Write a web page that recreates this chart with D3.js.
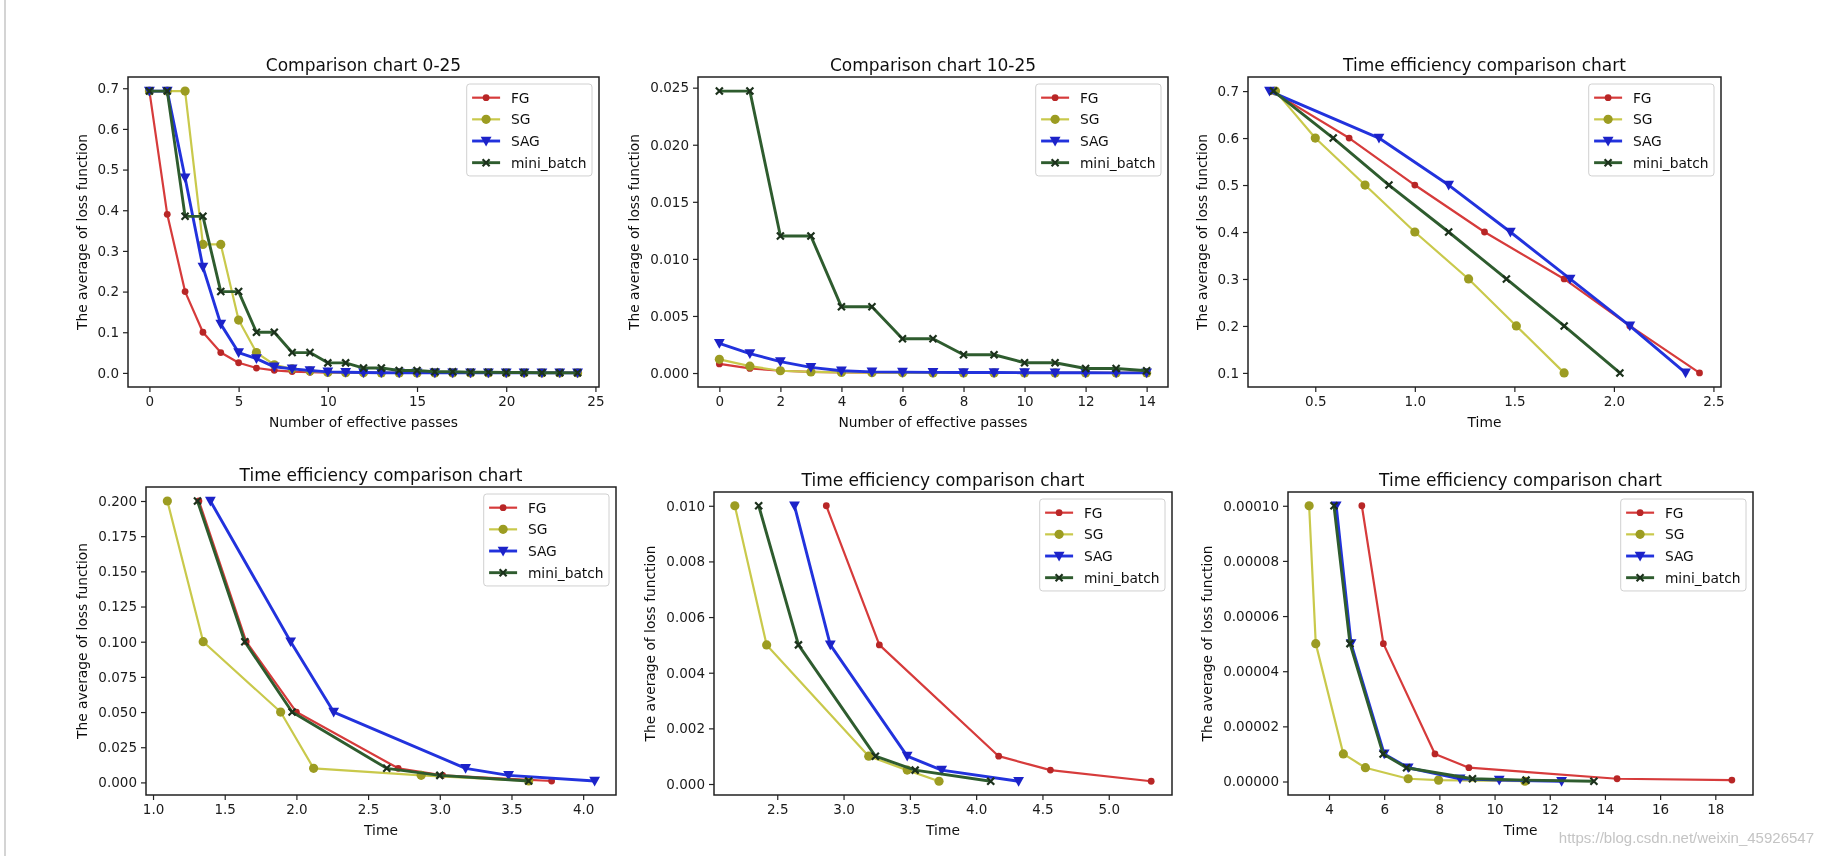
<!DOCTYPE html>
<html><head><meta charset="utf-8">
<script src="https://cdn.jsdelivr.net/npm/d3@7"></script>
<style>html,body{margin:0;padding:0;background:#fff;} svg{display:block;}</style>
</head><body>
<svg id="chart" width="1824" height="856"></svg>
<script>
// ---------- data ----------
const seriesNames = ["FG", "SG", "SAG", "mini_batch"];

// Panels 1 & 2: loss vs number of effective passes
const passes = [0,1,2,3,4,5,6,7,8,9,10,11,12,13,14,15,16,17,18,19,20,21,22,23,24];
const lossFG   = [0.693,0.39,0.2,0.1,0.05,0.025,0.012,0.0064,0.0032,0.0016,0.0008,0.0004,0.0002,0.0001,0.00005,0.00003,0.00002,0.00001,0.00001,0.00001,0.00001,0.00001,0.00001,0.00001,0.00001];
const lossSG   = [0.693,0.693,0.693,0.316,0.316,0.13,0.05,0.02,0.01,0.005,0.0012,0.0006,0.0002,0.0001,0.00005,0.00003,0.00002,0.00001,0.00001,0.00001,0.00001,0.00001,0.00001,0.00001,0.00001];
const lossSAG  = [0.693,0.693,0.48,0.26,0.12,0.05,0.035,0.015,0.01,0.006,0.0026,0.0017,0.001,0.0005,0.0002,0.0001,0.00008,0.00006,0.00005,0.00004,0.00003,0.00002,0.00002,0.00001,0.00001];
const lossMini = [0.693,0.693,0.385,0.385,0.2,0.2,0.1,0.1,0.05,0.05,0.0247,0.0247,0.012,0.012,0.0058,0.0058,0.003,0.003,0.0016,0.0016,0.0009,0.0009,0.0004,0.0004,0.0002];
const passes10 = [0,1,2,3,4,5,6,7,8,9,10,11,12,13,14];

// Panel 3: time to reach loss level
const thr3    = [0.7,0.6,0.5,0.4,0.3,0.2,0.1];
const timeFG3 = [0.28,0.67,1.0,1.35,1.75,2.08,2.43];
const timeSG3 = [0.30,0.50,0.75,1.0,1.27,1.51,1.75];
const timeSAG3= [0.27,0.82,1.17,1.48,1.78,2.08,2.36];
const timeMB3 = [0.29,0.59,0.87,1.17,1.46,1.75,2.03];

// Panel 4
const thr4    = [0.2,0.1,0.05,0.01,0.005,0.001];
const timeFG4 = [1.32,1.65,2.0,2.71,3.02,3.78];
const timeSG4 = [1.10,1.35,1.89,2.12,2.87,3.62];
const timeSAG4= [1.40,1.96,2.26,3.18,3.48,4.08];
const timeMB4 = [1.31,1.64,1.97,2.63,3.0,3.62];

// Panel 5
const thr5    = [0.01,0.005,0.001,0.0005,0.0001];
const timeFG5 = [2.87,3.27,4.17,4.56,5.32];
const timeSG5 = [2.18,2.42,3.19,3.48,3.72];
const timeSAG5= [2.63,2.90,3.48,3.74,4.32];
const timeMB5 = [2.36,2.66,3.24,3.54,4.11];

// Panel 6
const thr6    = [0.0001,0.00005,0.00001,0.000005,0.000001,0.0000005,0.0000001];
const timeFG6 = [5.19,5.97,7.84,9.07,14.44,18.6];
const timeSG6 = [3.28,3.52,4.52,5.32,6.87,7.97,11.1];
const timeSAG6= [4.26,4.80,6.00,6.87,8.75,10.17,12.43];
const timeMB6 = [4.18,4.76,5.96,6.81,9.2,11.14,13.6];

// tick values
const xTicks1 = [0,5,10,15,20,25];
const yTicks1 = [0,0.1,0.2,0.3,0.4,0.5,0.6,0.7];
const xTicks2 = [0,2,4,6,8,10,12,14];
const yTicks2 = [0,0.005,0.01,0.015,0.02,0.025];
const xTicks3 = [0.5,1.0,1.5,2.0,2.5];
const yTicks3 = [0.1,0.2,0.3,0.4,0.5,0.6,0.7];
const xTicks4 = [1.0,1.5,2.0,2.5,3.0,3.5,4.0];
const yTicks4 = [0,0.025,0.05,0.075,0.1,0.125,0.15,0.175,0.2];
const xTicks5 = [2.5,3.0,3.5,4.0,4.5,5.0];
const yTicks5 = [0,0.002,0.004,0.006,0.008,0.01];
const xTicks6 = [4,6,8,10,12,14,16,18];
const yTicks6 = [0,0.00002,0.00004,0.00006,0.00008,0.0001];

const titles = ["Comparison chart 0-25","Comparison chart 10-25","Time efficiency comparison chart","Time efficiency comparison chart","Time efficiency comparison chart","Time efficiency comparison chart"];
const yLabel = "The average of loss function";
const watermark = "https://blog.csdn.net/weixin_45926547";

// ---------- style ----------
const FONT = "'DejaVu Sans', sans-serif";
const lineColors   = ["#d63a3a","#c9c94c","#2233dd","#2f5c2f"];
const markerColors = ["#b82828","#9c9c20","#1a22c8","#1c301c"];
const lineWidths   = [2.2,2.2,2.9,2.9];

const svg = d3.select("#chart");
const defs = svg.append("defs");
defs.append("filter").attr("id","soft")
  .attr("filterUnits","userSpaceOnUse").attr("x",0).attr("y",0).attr("width",1824).attr("height",856)
  .append("feGaussianBlur").attr("stdDeviation",0.75);

const root = svg.append("g").attr("filter","url(#soft)");
root.append("rect").attr("width",1824).attr("height",856).attr("fill","#fff");
root.append("line").attr("x1",5).attr("x2",5).attr("y1",0).attr("y2",856)
  .attr("stroke","#d4d4d4").attr("stroke-width",2);

function padExt(ext){ const d = ext[1]-ext[0]; return [ext[0]-0.05*d, ext[1]+0.05*d]; }

function marker(g, cx, cy, i){
  if (i === 0) {
    g.append("circle").attr("cx",cx).attr("cy",cy).attr("r",3.4).attr("fill",markerColors[0]);
  } else if (i === 1) {
    g.append("circle").attr("cx",cx).attr("cy",cy).attr("r",4.6).attr("fill",markerColors[1]);
  } else if (i === 2) {
    const h = 5.4;
    g.append("path").attr("d",`M${cx-h},${cy-h*0.8}L${cx+h},${cy-h*0.8}L${cx},${cy+h}Z`).attr("fill",markerColors[2]);
  } else {
    const h = 3.5;
    g.append("path").attr("d",`M${cx-h},${cy-h}L${cx+h},${cy+h}M${cx-h},${cy+h}L${cx+h},${cy-h}`)
      .attr("stroke",markerColors[3]).attr("stroke-width",2.2).attr("fill","none");
  }
}

function drawPanel(p, idx){
  const g = root.append("g");
  const allX = p.series.flatMap(s=>s.x), allY = p.series.flatMap(s=>s.y);
  const x = d3.scaleLinear().domain(padExt(d3.extent(allX))).range([p.L,p.R]);
  const y = d3.scaleLinear().domain(padExt(d3.extent(allY))).range([p.B,p.T]);

  p.series.forEach((s,i)=>{
    const pts = s.x.map((xv,k)=>[xv,s.y[k]]);
    g.append("path").datum(pts)
      .attr("d", d3.line().x(d=>x(d[0])).y(d=>y(d[1])))
      .attr("fill","none").attr("stroke",lineColors[i]).attr("stroke-width",lineWidths[i])
      .attr("stroke-linejoin","round");
    const mg = g.append("g");
    pts.forEach(d=>marker(mg, x(d[0]), y(d[1]), i));
  });

  g.append("rect").attr("x",p.L).attr("y",p.T).attr("width",p.R-p.L).attr("height",p.B-p.T)
    .attr("fill","none").attr("stroke","#222").attr("stroke-width",1.5);

  const xa = g.append("g").attr("transform",`translate(0,${p.B})`)
    .call(d3.axisBottom(x).tickValues(p.xTicks).tickFormat(p.xFmt).tickSize(5).tickPadding(4));
  const ya = g.append("g").attr("transform",`translate(${p.L},0)`)
    .call(d3.axisLeft(y).tickValues(p.yTicks).tickFormat(p.yFmt).tickSize(5).tickPadding(4));
  [xa,ya].forEach(a=>{
    a.select(".domain").remove();
    a.selectAll("text").attr("font-family",FONT).attr("font-size",13.5).attr("fill","#1a1a1a");
    a.selectAll("line").attr("stroke","#222").attr("stroke-width",1.2);
  });

  g.append("text").attr("x",(p.L+p.R)/2).attr("y",p.T-12).attr("text-anchor","middle")
    .attr("dominant-baseline","central").attr("font-family",FONT).attr("font-size",17)
    .attr("fill","#111").text(titles[idx]);
  g.append("text").attr("x",(p.L+p.R)/2).attr("y",p.B+35).attr("text-anchor","middle")
    .attr("dominant-baseline","central").attr("font-family",FONT).attr("font-size",13.8)
    .attr("fill","#111").text(p.xLabel);
  const bb = ya.node().getBBox();
  g.append("text").attr("transform",`translate(${p.L+bb.x-16},${(p.T+p.B)/2}) rotate(-90)`)
    .attr("text-anchor","middle").attr("dominant-baseline","central")
    .attr("font-family",FONT).attr("font-size",13.8).attr("fill","#111").text(yLabel);

  // legend
  const fs = 13.8, pad = 5.4, handle = 28, gapT = 10.8, rowH = fs*1.57;
  const lg = g.append("g");
  const texts = seriesNames.map(n => lg.append("text").attr("font-family",FONT).attr("font-size",fs)
      .attr("fill","#111").attr("dominant-baseline","central").text(n));
  const tw = d3.max(texts, t=>t.node().getComputedTextLength());
  const w = pad + handle + gapT + tw + pad;
  const h = pad*2 + rowH*3 + fs*1.17;
  const lx = p.R - 7 - w, ly = p.T + 7;
  lg.insert("rect",":first-child").attr("x",lx).attr("y",ly).attr("width",w).attr("height",h)
    .attr("rx",3).attr("fill","#fff").attr("fill-opacity",0.85).attr("stroke","#d0d0d0").attr("stroke-width",1);
  seriesNames.forEach((n,i)=>{
    const cy = ly + pad + fs*0.6 + i*rowH;
    lg.append("line").attr("x1",lx+pad).attr("x2",lx+pad+handle).attr("y1",cy).attr("y2",cy)
      .attr("stroke",lineColors[i]).attr("stroke-width",lineWidths[i]);
    marker(lg, lx+pad+handle/2, cy, i);
    texts[i].attr("x",lx+pad+handle+gapT).attr("y",cy);
    texts[i].raise();
  });
}

const fmt1 = d3.format(".1f"), fmt3 = d3.format(".3f"), fmt5 = d3.format(".5f"), fmtD = d3.format("d");
const sl = a => a.slice(10);

const panels = [
  {L:128,R:599,T:77,B:387, xTicks:xTicks1, yTicks:yTicks1, xFmt:fmtD, yFmt:fmt1, xLabel:"Number of effective passes",
   series:[{x:passes,y:lossFG},{x:passes,y:lossSG},{x:passes,y:lossSAG},{x:passes,y:lossMini}]},
  {L:698,R:1168,T:77,B:387, xTicks:xTicks2, yTicks:yTicks2, xFmt:fmtD, yFmt:fmt3, xLabel:"Number of effective passes",
   series:[{x:passes10,y:sl(lossFG)},{x:passes10,y:sl(lossSG)},{x:passes10,y:sl(lossSAG)},{x:passes10,y:sl(lossMini)}]},
  {L:1248,R:1721,T:77,B:387, xTicks:xTicks3, yTicks:yTicks3, xFmt:fmt1, yFmt:fmt1, xLabel:"Time",
   series:[{x:timeFG3,y:thr3},{x:timeSG3,y:thr3},{x:timeSAG3,y:thr3},{x:timeMB3,y:thr3}]},
  {L:146,R:616,T:487,B:795, xTicks:xTicks4, yTicks:yTicks4, xFmt:fmt1, yFmt:fmt3, xLabel:"Time",
   series:[{x:timeFG4,y:thr4},{x:timeSG4,y:thr4},{x:timeSAG4,y:thr4},{x:timeMB4,y:thr4}]},
  {L:714,R:1172,T:492,B:795, xTicks:xTicks5, yTicks:yTicks5, xFmt:fmt1, yFmt:fmt3, xLabel:"Time",
   series:[{x:timeFG5,y:thr5},{x:timeSG5,y:thr5},{x:timeSAG5,y:thr5},{x:timeMB5,y:thr5}]},
  {L:1288,R:1753,T:492,B:795, xTicks:xTicks6, yTicks:yTicks6, xFmt:fmtD, yFmt:fmt5, xLabel:"Time",
   series:[{x:timeFG6,y:thr6.slice(0,timeFG6.length)},{x:timeSG6,y:thr6.slice(0,timeSG6.length)},{x:timeSAG6,y:thr6.slice(0,timeSAG6.length)},{x:timeMB6,y:thr6.slice(0,timeMB6.length)}]}
];
panels.forEach(drawPanel);

root.append("text").attr("x",1814).attr("y",843).attr("text-anchor","end")
  .attr("font-family","'Liberation Sans', Arial, sans-serif").attr("font-size",15)
  .attr("fill","#c4c4c4").text(watermark);
</script>
</body></html>
